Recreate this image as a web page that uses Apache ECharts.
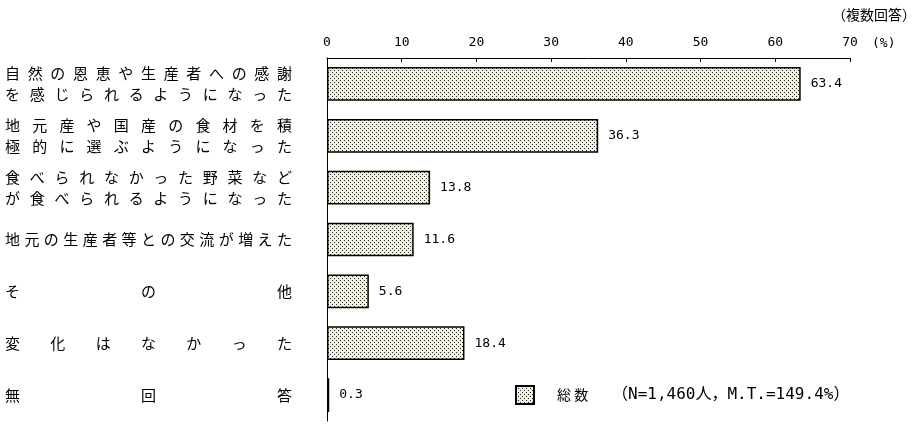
<!DOCTYPE html>
<html>
<head>
<meta charset="utf-8">
<script src="https://cdn.jsdelivr.net/npm/echarts@6/dist/echarts.min.js"></script>
<style>
  html, body { margin: 0; padding: 0; background: #fff; }
  #main { width: 923px; height: 439px; }
</style>
</head>
<body>
<div id="main"></div>
<script>
// 項目（2行のものは \n で区切る）
var categories = [
    '自然の恩恵や生産者への感謝\nを感じられるようになった',
    '地元産や国産の食材を積\n極的に選ぶようになった',
    '食べられなかった野菜など\nが食べられるようになった',
    '地元の生産者等との交流が増えた',
    'その他',
    '変化はなかった',
    '無回答'
];
var values = [63.4, 36.3, 13.8, 11.6, 5.6, 18.4, 0.3];
var xTicks = [0, 10, 20, 30, 40, 50, 60, 70];
var seriesName = '総 数';
var noteText = '（N=1,460人，M.T.=149.4%）';

(function () {
    var myChart = echarts.init(document.getElementById('main'));
    var FONT = '"Noto Sans CJK JP", sans-serif';
    var MONO = '"DejaVu Sans Mono", "Noto Sans CJK JP", monospace';
    var fs = 15;       // 文字サイズ
    var L = 287;       // 項目ラベルの幅（均等割り付け）

    // 網かけ模様
    var pat = document.createElement('canvas');
    pat.width = 4; pat.height = 4;
    var ctx = pat.getContext('2d');
    ctx.fillStyle = '#eef2d8';
    ctx.fillRect(0, 0, 4, 4);
    ctx.fillStyle = '#2a2a2a';
    ctx.fillRect(0, 0, 1, 1);
    ctx.fillRect(2, 2, 1, 1);

    // 均等割り付け用の rich スタイル
    var rich = {
        e: { width: fs, align: 'left', fontSize: fs, fontFamily: FONT, color: '#000', lineHeight: 21 }
    };
    categories.forEach(function (c) {
        c.split('\n').forEach(function (line) {
            var n = line.length;
            if (n > 1 && !rich['w' + n]) {
                rich['w' + n] = { width: (L - fs) / (n - 1), align: 'left', fontSize: fs, fontFamily: FONT, color: '#000', lineHeight: 21 };
            }
        });
    });

    function justify(text) {
        return text.split('\n').map(function (line) {
            var n = line.length;
            var out = '';
            for (var i = 0; i < n; i++) {
                out += (i < n - 1 ? '{w' + n + '|' : '{e|') + line[i] + '}';
            }
            return out;
        }).join('\n');
    }

    var option = {
        backgroundColor: '#fff',
        animation: false,
        title: {
            text: '（複数回答）',
            right: 2,
            top: 3,
            textStyle: { fontFamily: FONT, fontSize: 14, fontWeight: 'normal', color: '#000' }
        },
        grid: {
            left: 327,
            right: 73,
            top: 58,
            bottom: 18
        },
        legend: {
            left: 510,
            top: 380,
            icon: 'rect',
            itemWidth: 18,
            itemHeight: 18,
            itemGap: 10,
            data: [seriesName],
            formatter: function (name) {
                return '{a|' + name + '}{b|' + noteText + '}';
            },
            textStyle: {
                fontFamily: FONT,
                color: '#000',
                rich: {
                    a: { width: 55, fontSize: 14, fontFamily: FONT, color: '#000', padding: [0, 0, 0, 18] },
                    b: { fontSize: 16, fontFamily: MONO, color: '#000' }
                }
            }
        },
        xAxis: {
            type: 'value',
            position: 'top',
            min: xTicks[0],
            max: xTicks[xTicks.length - 1],
            interval: 10,
            name: '(%)',
            nameLocation: 'end',
            nameGap: 22,
            nameTextStyle: {
                fontFamily: MONO, fontSize: 13, color: '#000',
                align: 'left', verticalAlign: 'bottom', padding: [0, 0, 8, 0]
            },
            axisLine: { show: true, lineStyle: { color: '#000', width: 1 } },
            axisTick: { show: true, inside: true, length: 4, lineStyle: { color: '#000' } },
            axisLabel: { margin: 9, fontFamily: MONO, fontSize: 13, color: '#000' },
            splitLine: { show: false }
        },
        yAxis: {
            type: 'category',
            inverse: true,
            data: categories,
            axisLine: { show: true, onZero: false, lineStyle: { color: '#000', width: 1 } },
            axisTick: { show: false },
            axisLabel: {
                margin: 35,
                align: 'right',
                formatter: justify,
                rich: rich
            }
        },
        series: [
            {
                name: seriesName,
                type: 'bar',
                barWidth: '65%',
                data: values,
                itemStyle: {
                    color: { image: pat, repeat: 'repeat' },
                    borderColor: '#000',
                    borderWidth: 1.5
                },
                label: {
                    show: true,
                    position: 'right',
                    distance: 10,
                    fontFamily: MONO,
                    fontSize: 13,
                    color: '#000',
                    formatter: function (p) { return p.value.toFixed(1); }
                }
            }
        ]
    };
    myChart.setOption(option);
    window.addEventListener('resize', function () {
        myChart.resize();
    });
})();
</script>
</body>
</html>
